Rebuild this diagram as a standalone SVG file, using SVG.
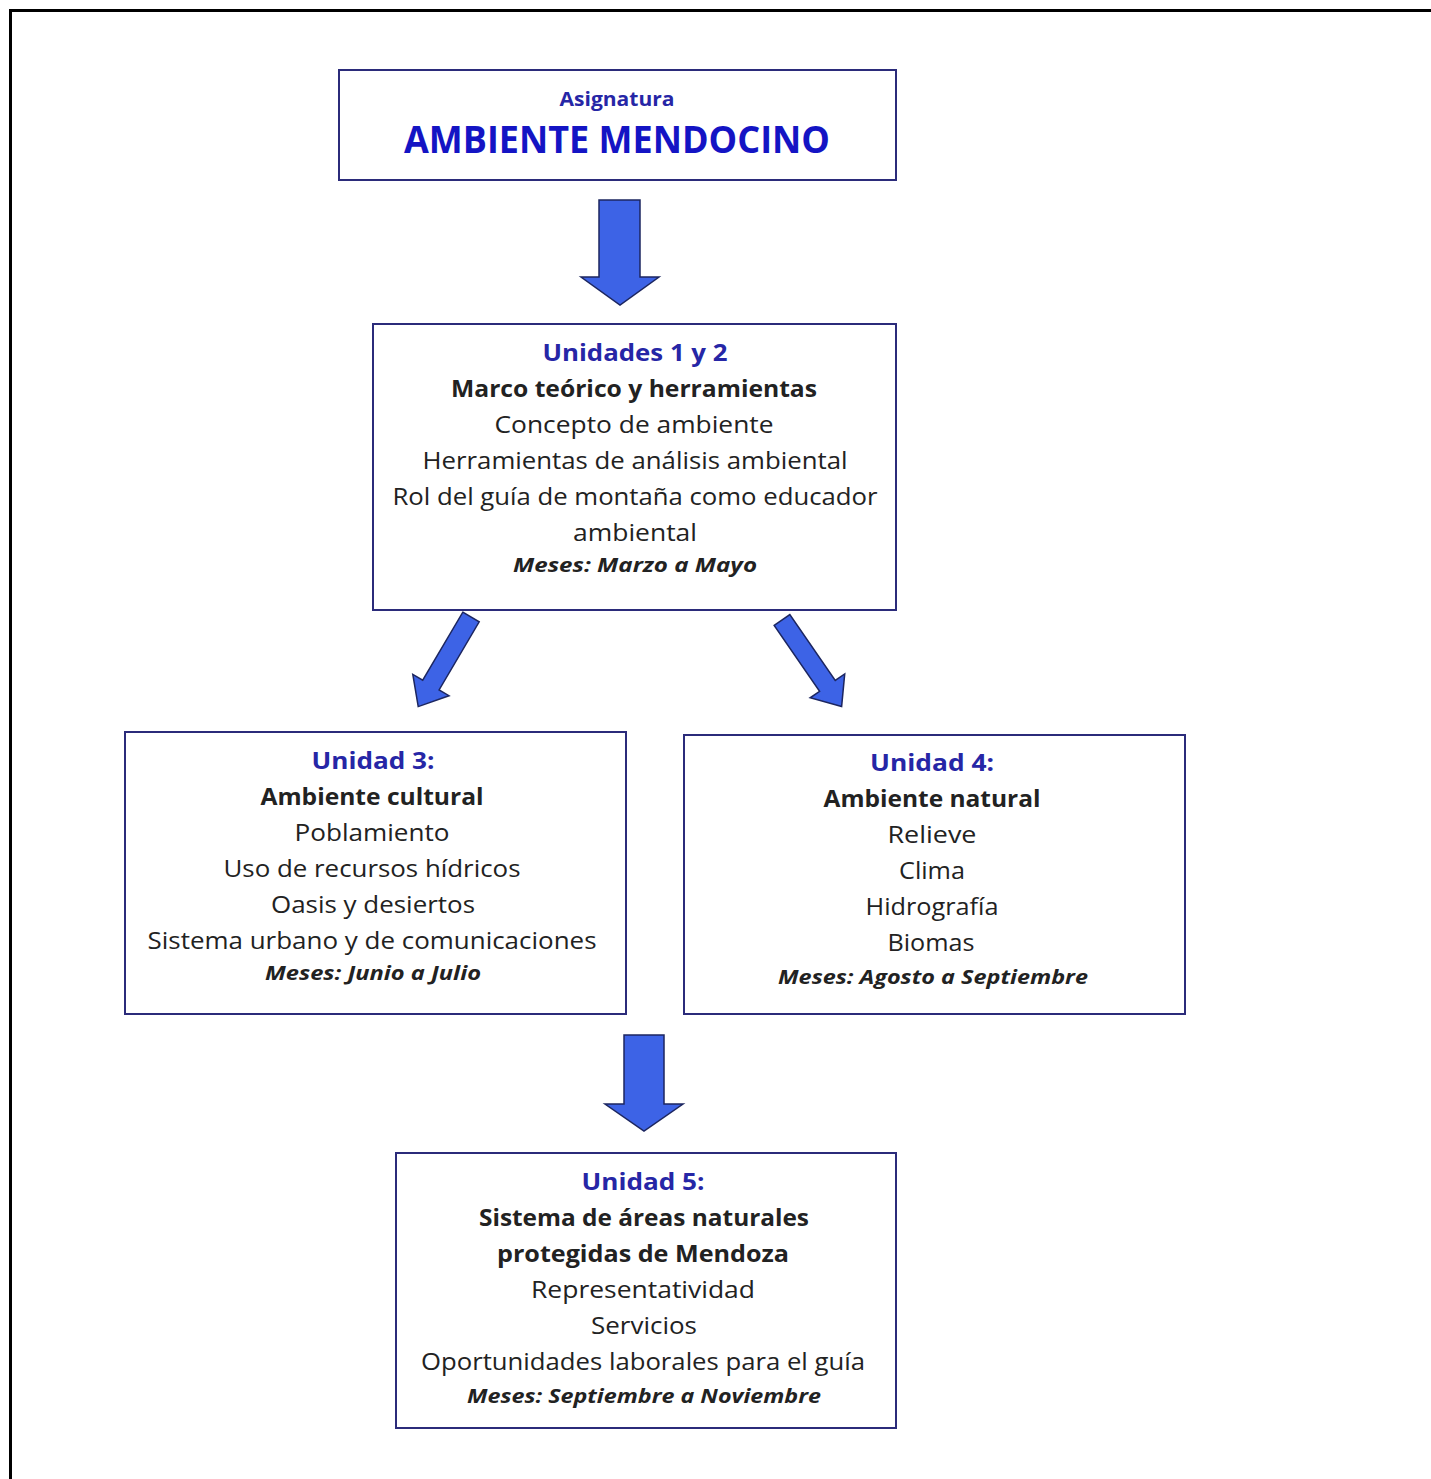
<svg xmlns="http://www.w3.org/2000/svg" width="1431" height="1479" viewBox="0 0 1431 1479">
<defs>
<style>
.box{fill:#ffffff;stroke:#2b2b7a;stroke-width:2}
.arrow{fill:#3d63e6;stroke:#1c2660;stroke-width:1.5;stroke-linejoin:miter}
text{font-family:"Open Sans","Noto Sans","Liberation Sans",sans-serif;text-anchor:middle;fill:#222222}
.hd{font-weight:bold;fill:#2626a6;font-size:24px}
.bd{font-weight:bold;font-size:24px}
.rg{font-size:24px}
.ms{font-weight:bold;font-style:italic;font-size:20px}
</style>
</defs>
<rect x="0" y="0" width="1431" height="1479" fill="#ffffff"/>
<path d="M10.5 1479 V10.5 H1431" fill="none" stroke="#000000" stroke-width="3"/>

<g id="connectors">
<path class="arrow" d="M599 200 H640 V277 H659 L620 305 L581 277 H599 Z"/>
<path class="arrow" transform="translate(471,617) rotate(30.5)" d="M-9.5 0 H9.5 V79 H21 L0 104 L-21 79 H-9.5 Z"/>
<path class="arrow" transform="translate(782,620) rotate(-34.6)" d="M-9.5 0 H9.5 V80 H21 L0 105 L-21 80 H-9.5 Z"/>
<path class="arrow" d="M624 1035 H664 V1104 H683 L644 1131 L605 1104 H624 Z"/>
</g>

<g id="n_asignatura">
<rect class="box" x="339" y="70" width="557" height="110"/>
<text x="617" y="106" style="font-size:20px;font-weight:bold;fill:#2626a6" textLength="115" lengthAdjust="spacingAndGlyphs">Asignatura</text>
<text x="617" y="153" style="font-size:37px;font-weight:bold;fill:#1414c4" textLength="426" lengthAdjust="spacingAndGlyphs">AMBIENTE  MENDOCINO</text>
</g>

<g id="n_unidades12">
<rect class="box" x="373" y="324" width="523" height="286"/>
<text class="hd" x="635" y="361" textLength="185" lengthAdjust="spacingAndGlyphs">Unidades  1 y 2</text>
<text class="bd" x="634" y="397" textLength="366" lengthAdjust="spacingAndGlyphs">Marco teórico y herramientas</text>
<text class="rg" x="634" y="433" textLength="279" lengthAdjust="spacingAndGlyphs">Concepto de ambiente</text>
<text class="rg" x="635" y="469" textLength="425" lengthAdjust="spacingAndGlyphs">Herramientas de análisis ambiental</text>
<text class="rg" x="635" y="505" textLength="485" lengthAdjust="spacingAndGlyphs">Rol del guía de montaña como educador</text>
<text class="rg" x="635" y="541" textLength="124" lengthAdjust="spacingAndGlyphs">ambiental</text>
<text class="ms" x="635" y="572" textLength="244" lengthAdjust="spacingAndGlyphs">Meses:  Marzo a Mayo</text>
</g>

<g id="n_unidad3">
<rect class="box" x="125" y="732" width="501" height="282"/>
<text class="hd" x="373" y="769" textLength="123" lengthAdjust="spacingAndGlyphs">Unidad  3:</text>
<text class="bd" x="372" y="805" textLength="223" lengthAdjust="spacingAndGlyphs">Ambiente cultural</text>
<text class="rg" x="372" y="841" textLength="155" lengthAdjust="spacingAndGlyphs">Poblamiento</text>
<text class="rg" x="372" y="877" textLength="297" lengthAdjust="spacingAndGlyphs">Uso de recursos hídricos</text>
<text class="rg" x="373" y="913" textLength="204" lengthAdjust="spacingAndGlyphs">Oasis y desiertos</text>
<text class="rg" x="372" y="949" textLength="449" lengthAdjust="spacingAndGlyphs">Sistema urbano y de comunicaciones</text>
<text class="ms" x="373" y="980" textLength="216" lengthAdjust="spacingAndGlyphs">Meses:  Junio a Julio</text>
</g>

<g id="n_unidad4">
<rect class="box" x="684" y="735" width="501" height="279"/>
<text class="hd" x="932" y="771" textLength="124" lengthAdjust="spacingAndGlyphs">Unidad  4:</text>
<text class="bd" x="932" y="807" textLength="217" lengthAdjust="spacingAndGlyphs">Ambiente natural</text>
<text class="rg" x="932" y="843" textLength="89" lengthAdjust="spacingAndGlyphs">Relieve</text>
<text class="rg" x="932" y="879" textLength="66" lengthAdjust="spacingAndGlyphs">Clima</text>
<text class="rg" x="932" y="915" textLength="133" lengthAdjust="spacingAndGlyphs">Hidrografía</text>
<text class="rg" x="931" y="951" textLength="87" lengthAdjust="spacingAndGlyphs">Biomas</text>
<text class="ms" x="933" y="984" textLength="310" lengthAdjust="spacingAndGlyphs">Meses:  Agosto a Septiembre</text>
</g>

<g id="n_unidad5">
<rect class="box" x="396" y="1153" width="500" height="275"/>
<text class="hd" x="643" y="1190" textLength="123" lengthAdjust="spacingAndGlyphs">Unidad  5:</text>
<text class="bd" x="644" y="1226" textLength="330" lengthAdjust="spacingAndGlyphs">Sistema de áreas naturales</text>
<text class="bd" x="643" y="1262" textLength="292" lengthAdjust="spacingAndGlyphs">protegidas de Mendoza</text>
<text class="rg" x="643" y="1298" textLength="224" lengthAdjust="spacingAndGlyphs">Representatividad</text>
<text class="rg" x="644" y="1334" textLength="106" lengthAdjust="spacingAndGlyphs">Servicios</text>
<text class="rg" x="643" y="1370" textLength="444" lengthAdjust="spacingAndGlyphs">Oportunidades laborales para el guía</text>
<text class="ms" x="644" y="1403" textLength="354" lengthAdjust="spacingAndGlyphs">Meses:  Septiembre  a Noviembre</text>
</g>
</svg>
